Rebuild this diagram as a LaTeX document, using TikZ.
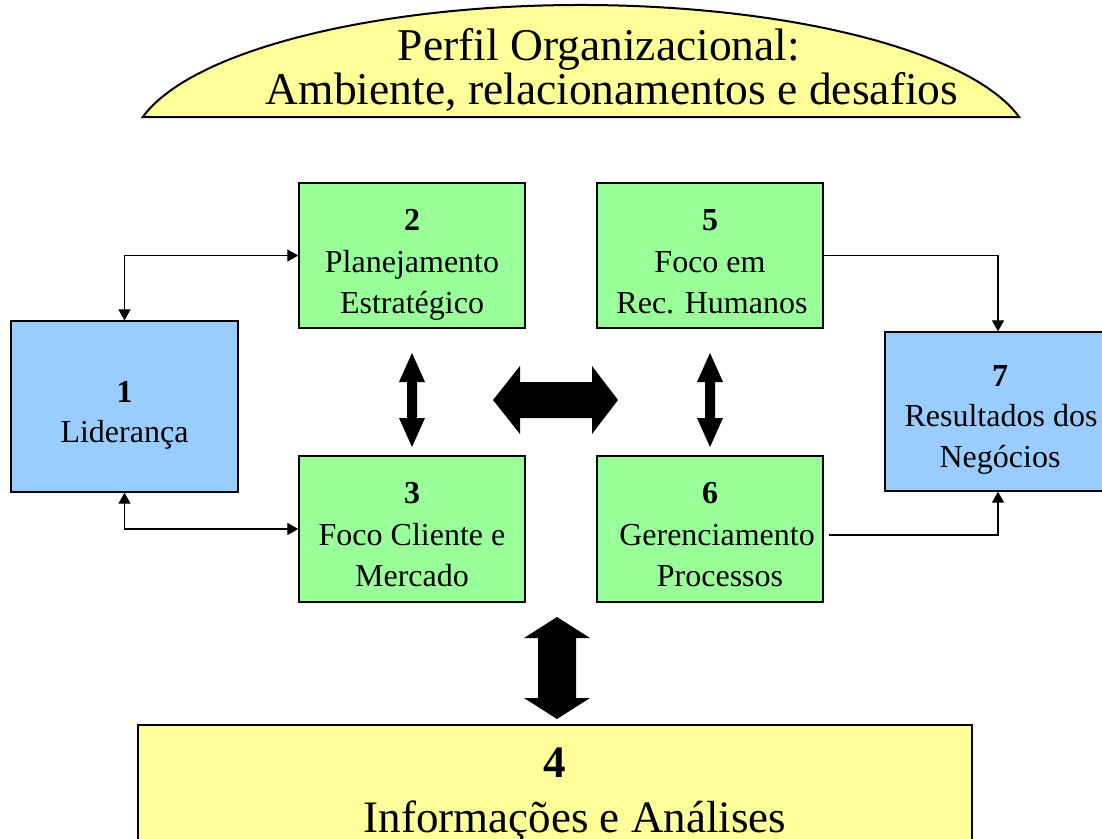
\documentclass[tikz,border=0pt]{standalone}
\usepackage{fontspec}
\setmainfont{Liberation Serif}
\usetikzlibrary{arrows.meta}
\definecolor{boxgreen}{HTML}{99FF99}
\definecolor{boxblue}{HTML}{99CCFF}
\definecolor{boxyellow}{HTML}{FFFF99}
\tikzset{
  box/.style={draw=black, line width=1.3pt, rectangle, inner sep=0pt},
  greenbox/.style={box, fill=boxgreen, minimum width=226pt, minimum height=145pt},
  bluebox/.style={box, fill=boxblue},
  lbl/.style={anchor=base, inner sep=0pt, font=\fontsize{32}{40}\selectfont},
  num/.style={lbl, font=\fontsize{32}{40}\selectfont\bfseries},
  bigtxt/.style={anchor=base, inner sep=0pt, font=\fontsize{45}{54}\selectfont},
  titletxt/.style={anchor=base, inner sep=0pt, font=\fontsize{45.5}{50}\selectfont},
  link/.style={line width=1.2pt, -{Triangle[length=11pt,width=12pt]}},
  biglink/.style={line width=1.2pt, {Triangle[length=11pt,width=12pt]}-{Triangle[length=11pt,width=12pt]}},
  blockarrow/.style={fill=black}
}
\begin{document}
\begin{tikzpicture}[x=1pt,y=-1pt]
\useasboundingbox (0,0) rectangle (1102,838);
\clip (0,0) rectangle (1102,838);

% title banner: an ellipse cut off by a straight base
\filldraw[fill=boxyellow, draw=black, line width=2pt]
  (142.8,117) arc[start angle=193.16, end angle=346.84, x radius=450, y radius=145] -- cycle;
\node[titletxt] (title1) at (599,60) {Perfil Organizacional:};
\node[titletxt] (title2) at (612,104) {Ambiente, relacionamentos e desafios};

% criteria boxes
\node[bluebox, minimum width=227pt, minimum height=171pt] (lid) at (124.5,406.5) {};
\node[greenbox] (plan) at (412,255.5) {};
\node[greenbox, minimum height=146pt] (cli) at (412,529) {};
\node[greenbox] (rh) at (710,255.5) {};
\node[greenbox, minimum height=146pt] (ger) at (710,529) {};
\node[bluebox, minimum width=226pt, minimum height=159pt] (res) at (998,411.5) {};
\node[box, fill=boxyellow, minimum width=834pt, minimum height=145pt] (info) at (555,797.5) {};

% box texts
\node[num] (n1) at (124.5,402) {1};
\node[lbl] (t1) at (124.5,442) {Liderança};

\node[num] (n2) at (412,230) {2};
\node[lbl] (t2a) at (412,272) {Planejamento};
\node[lbl] (t2b) at (412,313) {Estratégico};

\node[num] (n3) at (412,503) {3};
\node[lbl] (t3a) at (412,545) {Foco Cliente e};
\node[lbl] (t3b) at (412,586) {Mercado};

\node[num] (n5) at (710,230) {5};
\node[lbl] (t5a) at (710,272) {Foco em};
\node[lbl] (t5b) at (712,313) {Rec. Humanos};

\node[num] (n6) at (710,503) {6};
\node[lbl] (t6a) at (717,545) {Gerenciamento};
\node[lbl] (t6b) at (720,586) {Processos};

\node[num] (n7) at (1000,386) {7};
\node[lbl] (t7a) at (1001,426) {Resultados dos};
\node[lbl] (t7b) at (1000,467) {Negócios};

\node[bigtxt, font=\fontsize{45}{54}\selectfont\bfseries] (n4) at (555,777) {4};
\node[bigtxt] (t4) at (575,832) {Informações e Análises};

% thin connectors
\draw[biglink] (lid.north) |- (plan.west);
\draw[biglink] (lid.south) |- (cli.west);
\draw[link] (rh.east) -| (res.north);
\coordinate (gerout) at (829,535);
\draw[link] (gerout) -| (res.south);

% block double arrows
\fill[blockarrow] (412,353) -- (425,382) -- (417,382) -- (417,418) -- (425,418) -- (412,447)
  -- (399,418) -- (407,418) -- (407,382) -- (399,382) -- cycle;
\fill[blockarrow] (710,353) -- (723,382) -- (715,382) -- (715,418) -- (723,418) -- (710,447)
  -- (697,418) -- (705,418) -- (705,382) -- (697,382) -- cycle;
\fill[blockarrow] (493,400) -- (520,366) -- (520,382) -- (592,382) -- (592,366) -- (618,400)
  -- (592,434) -- (592,418) -- (520,418) -- (520,434) -- cycle;
\fill[blockarrow] (557,617) -- (590,638) -- (576,638) -- (576,698) -- (590,698) -- (557,719)
  -- (524,698) -- (538,698) -- (538,638) -- (524,638) -- cycle;
\end{tikzpicture}
\end{document}
